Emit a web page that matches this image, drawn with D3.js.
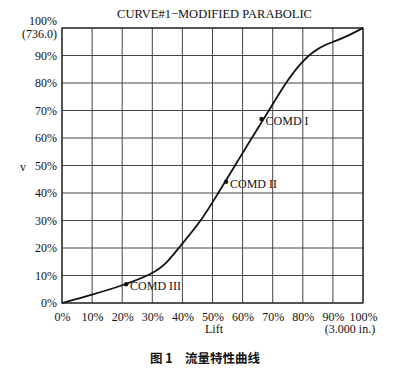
<!DOCTYPE html>
<html>
<head>
<meta charset="utf-8">
<script src="https://cdn.jsdelivr.net/npm/d3@7"></script>
<style>
  body { margin: 0; background: #fff; }
  text { font-family: "Liberation Serif", "DejaVu Serif", serif; fill: #111; }
</style>
</head>
<body>
<div id="container"></div>
<script>
// curve: lift % vs flow %
const liftPct = [0, 10, 20, 30, 34.8, 38.7, 46.4, 51.9, 57.5, 63, 68.8, 74.2, 80, 85.7, 90.4, 95.7, 100];
const flowPct = [0, 3.0, 6.3, 10.5, 14.4, 20, 30, 40, 50, 60, 70, 80, 88.4, 93.2, 95, 97.5, 100];

const pointNames = ['COMD I', 'COMD II', 'COMD III'];
const pointLift = [66.3, 54.5, 21.3];
const pointFlow = [66.9, 44.1, 6.8];

const tickValues = [0, 10, 20, 30, 40, 50, 60, 70, 80, 90, 100];

const W = 411, H = 374;
const margin = { left: 62, right: 48, top: 28, bottom: 71 };

const svg = d3.select('#container').append('svg')
  .attr('width', W)
  .attr('height', H);

const x = d3.scaleLinear().domain([0, 100]).range([margin.left, W - margin.right]);
const y = d3.scaleLinear().domain([0, 100]).range([H - margin.bottom, margin.top]);

// grid
svg.append('g')
  .selectAll('line')
  .data(tickValues)
  .join('line')
  .attr('x1', d => x(d)).attr('x2', d => x(d))
  .attr('y1', y(0)).attr('y2', y(100))
  .style('stroke', '#444')
  .style('stroke-width', 1);
svg.append('g')
  .selectAll('line')
  .data(tickValues)
  .join('line')
  .attr('y1', d => y(d)).attr('y2', d => y(d))
  .attr('x1', x(0)).attr('x2', x(100))
  .style('stroke', '#444')
  .style('stroke-width', 1);

svg.append('rect')
  .attr('x', x(0)).attr('y', y(100))
  .attr('width', x(100) - x(0)).attr('height', y(0) - y(100))
  .style('fill', 'none')
  .style('stroke', '#222')
  .style('stroke-width', 1.2);

// tick labels only, the grid already draws the lines
const xAxis = d3.axisBottom(x).tickValues(tickValues).tickSize(0).tickPadding(9).tickFormat(d => d + '%');
const gx = svg.append('g').attr('transform', `translate(0,${y(0)})`).call(xAxis);
gx.select('.domain').remove();
gx.selectAll('text').style('font-size', '12px').style('font-family', '"Liberation Serif", serif').attr('fill', '#111');

const yAxis = d3.axisLeft(y).tickValues(tickValues.slice(0, 10)).tickSize(0).tickPadding(5).tickFormat(d => d + '%');
const gy = svg.append('g').attr('transform', `translate(${x(0)},0)`).call(yAxis);
gy.select('.domain').remove();
gy.selectAll('text').style('font-size', '12px').style('font-family', '"Liberation Serif", serif').attr('fill', '#111');

svg.append('text').attr('x', x(0) - 5).attr('y', y(100) - 3)
  .attr('text-anchor', 'end').style('font-size', '12px').text('100%');
svg.append('text').attr('x', x(0) - 5).attr('y', y(100) + 10)
  .attr('text-anchor', 'end').style('font-size', '12px').text('(736.0)');

svg.append('text').attr('x', (x(0) + x(100)) / 2 + 2).attr('y', 18)
  .attr('text-anchor', 'middle').style('font-size', '12.5px').text('CURVE#1\u2212MODIFIED PARABOLIC');

svg.append('text').attr('x', 23).attr('y', 171)
  .attr('text-anchor', 'middle').style('font-size', '12px').text('v');

svg.append('text').attr('x', 214).attr('y', 333)
  .attr('text-anchor', 'middle').style('font-size', '12px').text('Lift');
svg.append('text').attr('x', 350).attr('y', 333)
  .attr('text-anchor', 'middle').style('font-size', '12px').text('(3.000 in.)');

// curve, smoothed because hand-read points jitter a little
const line = d3.line()
  .x((d, i) => x(liftPct[i]))
  .y(d => y(d))
  .curve(d3.curveBasis);
svg.append('path')
  .attr('d', line(flowPct))
  .style('fill', 'none')
  .style('stroke', '#111')
  .style('stroke-width', 1.8);

// named points
const pts = pointNames.map((n, i) => ({ n, lx: pointLift[i], fy: pointFlow[i] }));
svg.selectAll('circle.pt')
  .data(pts)
  .join('circle')
  .attr('class', 'pt')
  .attr('cx', d => x(d.lx)).attr('cy', d => y(d.fy))
  .attr('r', 2.2)
  .style('fill', '#111');
svg.selectAll('text.pt')
  .data(pts)
  .join('text')
  .attr('class', 'pt')
  .attr('x', d => x(d.lx) + 4).attr('y', d => y(d.fy) + 6)
  .style('font-size', '12px')
  .text(d => d.n);

svg.append('text').attr('x', 205).attr('y', 363)
  .attr('text-anchor', 'middle')
  .style('font-family', '"Noto Sans CJK SC", sans-serif')
  .style('font-weight', 'bold')
  .style('font-size', '12.5px')
  .text('图 1\u2003流量特性曲线');
</script>
</body>
</html>
